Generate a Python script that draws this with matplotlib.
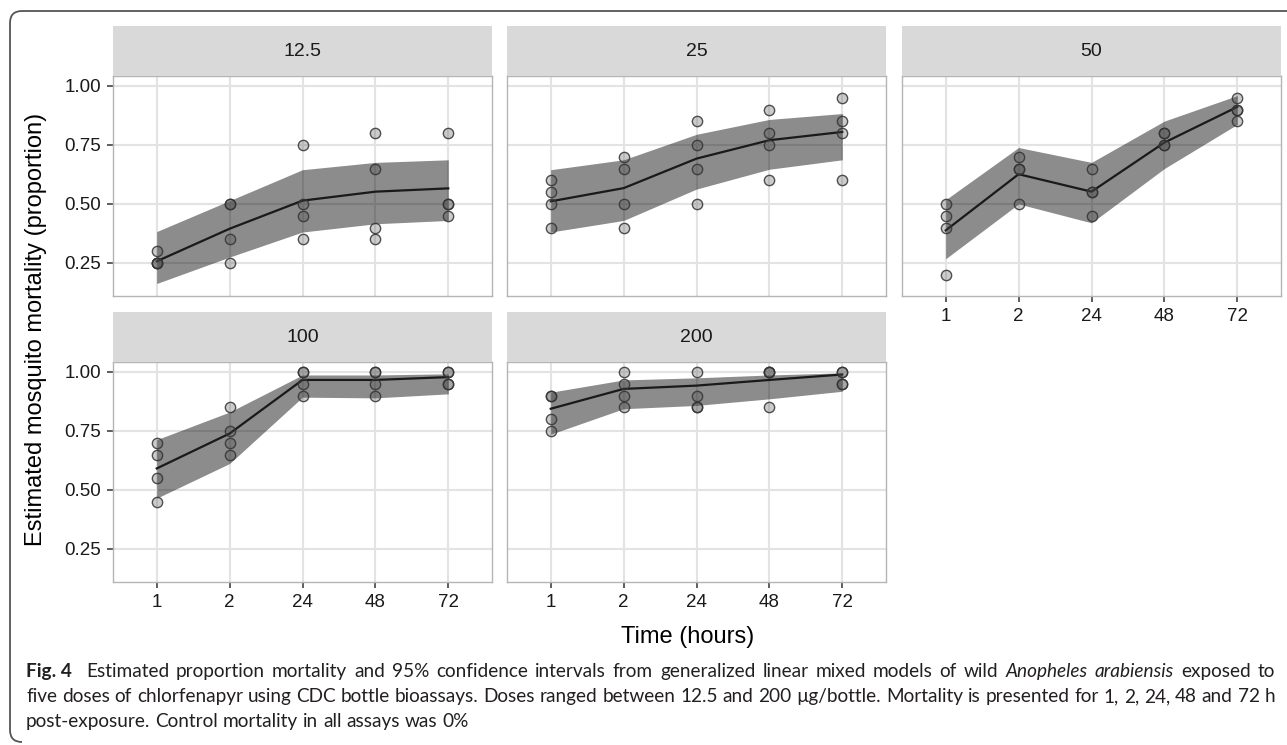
import matplotlib
matplotlib.use('Agg')
import matplotlib.pyplot as plt
from matplotlib.patches import Rectangle, PathPatch
from matplotlib.path import Path

W, H = 1287, 745

times = ['1', '2', '24', '48', '72']
doses = ['12.5', '25', '50', '100', '200']

# observed replicate mortality (4 bottles per time point)
obs_125 = [[0.30, 0.25, 0.25, 0.25], [0.50, 0.50, 0.35, 0.25], [0.75, 0.50, 0.45, 0.35],
           [0.80, 0.65, 0.40, 0.35], [0.80, 0.50, 0.50, 0.45]]
obs_25 = [[0.60, 0.55, 0.50, 0.40], [0.70, 0.65, 0.50, 0.40], [0.85, 0.75, 0.65, 0.50],
          [0.90, 0.80, 0.75, 0.60], [0.95, 0.85, 0.80, 0.60]]
obs_50 = [[0.50, 0.45, 0.40, 0.20], [0.70, 0.65, 0.65, 0.50], [0.65, 0.55, 0.55, 0.45],
          [0.80, 0.80, 0.75, 0.75], [0.95, 0.90, 0.90, 0.85]]
obs_100 = [[0.70, 0.65, 0.55, 0.45], [0.85, 0.75, 0.70, 0.65], [1.00, 1.00, 0.95, 0.90],
           [1.00, 1.00, 0.95, 0.90], [1.00, 1.00, 0.95, 0.95]]
obs_200 = [[0.90, 0.90, 0.80, 0.75], [1.00, 0.95, 0.90, 0.85], [1.00, 0.90, 0.85, 0.85],
           [1.00, 1.00, 1.00, 0.85], [1.00, 1.00, 0.95, 0.95]]

# model estimates and 95% CI
fit_125 = [0.257, 0.395, 0.514, 0.552, 0.566]
lo_125 = [0.163, 0.275, 0.381, 0.416, 0.430]
hi_125 = [0.383, 0.514, 0.645, 0.676, 0.687]

fit_25 = [0.511, 0.567, 0.692, 0.770, 0.805]
lo_25 = [0.381, 0.430, 0.563, 0.647, 0.687]
hi_25 = [0.645, 0.687, 0.795, 0.858, 0.883]

fit_50 = [0.388, 0.626, 0.552, 0.760, 0.911]
lo_50 = [0.268, 0.500, 0.420, 0.650, 0.837]
hi_50 = [0.518, 0.739, 0.676, 0.851, 0.959]

fit_100 = [0.591, 0.739, 0.966, 0.966, 0.978]
lo_100 = [0.465, 0.612, 0.893, 0.890, 0.907]
hi_100 = [0.713, 0.830, 0.987, 0.987, 0.992]

fit_200 = [0.844, 0.928, 0.942, 0.966, 0.989]
lo_200 = [0.736, 0.844, 0.858, 0.886, 0.918]
hi_200 = [0.914, 0.966, 0.975, 0.987, 0.996]

panels = {
    '12.5': (obs_125, fit_125, lo_125, hi_125),
    '25': (obs_25, fit_25, lo_25, hi_25),
    '50': (obs_50, fit_50, lo_50, hi_50),
    '100': (obs_100, fit_100, lo_100, hi_100),
    '200': (obs_200, fit_200, lo_200, hi_200),
}

plt.rcParams['font.family'] = ['Liberation Sans', 'DejaVu Sans']

fig = plt.figure(figsize=(W / 100, H / 100), dpi=100)

lefts = [113, 507, 902]
tops = [76, 362]
pw, ph, sh = 379, 220, 50
layout = {'12.5': (0, 0), '25': (1, 0), '50': (2, 0), '100': (0, 1), '200': (1, 1)}

for dose in doses:
    col, row = layout[dose]
    obs, fit, lo, hi = panels[dose]
    left, top = lefts[col], tops[row]
    ax = fig.add_axes([left / W, 1 - (top + ph) / H, pw / W, ph / H])
    xs = list(range(len(times)))

    ax.fill_between(xs, lo, hi, color='black', alpha=0.45, lw=0, zorder=2)
    ax.plot(xs, fit, color='#1a1a1a', lw=1.6, zorder=3)
    for i, vals in enumerate(obs):
        ax.scatter([i] * len(vals), vals, s=55, facecolor=(0.29, 0.29, 0.29, 0.28),
                   edgecolor=(0.2, 0.2, 0.2, 0.85), linewidth=1.0, zorder=4)

    ax.set_xlim(-0.6, 4.6)
    ax.set_ylim(0.110, 1.042)
    ax.set_xticks(xs)
    ax.set_yticks([0.25, 0.50, 0.75, 1.00])
    ax.grid(True, color='#E3E3E3', lw=1.5, zorder=0)
    ax.set_axisbelow(True)
    for sp in ax.spines.values():
        sp.set_color('#B5B5B5')
        sp.set_linewidth(1.0)

    show_x = (row == 1) or (col == 2)
    show_y = (col == 0)
    ax.tick_params(axis='x', length=4.2 if show_x else 0, width=1.1, color='#333333',
                   pad=4.5, labelsize=13.5, labelcolor='#1a1a1a', labelbottom=show_x)
    ax.tick_params(axis='y', length=4.2 if show_y else 0, width=1.1, color='#333333',
                   pad=4.5, labelsize=13.5, labelcolor='#1a1a1a', labelleft=show_y)
    ax.set_xticklabels(times)
    ax.set_yticklabels(['0.25', '0.50', '0.75', '1.00'])

    # facet strip
    fig.patches.append(Rectangle((left / W, 1 - top / H), pw / W, sh / H,
                                 transform=fig.transFigure, facecolor='#D9D9D9',
                                 edgecolor='none', zorder=1))
    fig.text((left + pw / 2) / W, 1 - (top - sh / 2) / H, dose, ha='center', va='center',
             fontsize=14, color='#1a1a1a')

fig.text(36 / W, 1 - 329 / H, 'Estimated mosquito mortality (proportion)', rotation=90,
         ha='center', va='center', fontsize=17, color='black')
fig.text(688 / W, 1 - 637 / H, 'Time (hours)', ha='center', va='center', fontsize=17,
         color='black')


# rounded frame round the figure
def fx(px):
    return px / W


def fy(py):
    return 1 - py / H


verts = [(fx(1287), fy(11)), (fx(22), fy(11)), (fx(10), fy(11)), (fx(10), fy(23)),
         (fx(10), fy(730)), (fx(10), fy(742)), (fx(22), fy(742))]
codes = [Path.MOVETO, Path.LINETO, Path.CURVE3, Path.CURVE3, Path.LINETO,
         Path.CURVE3, Path.CURVE3]
fig.patches.append(PathPatch(Path(verts, codes), transform=fig.transFigure, fill=False,
                             edgecolor='#555555', lw=1.3))

# caption, justified like the journal page
caption = [
    [('Fig. 4', 'bold'),
     ('Estimated proportion mortality and 95% confidence intervals from generalized linear mixed models of wild', 'normal'),
     ('Anopheles arabiensis', 'italic'), ('exposed to', 'normal')],
    [('five doses of chlorfenapyr using CDC bottle bioassays. Doses ranged between 12.5 and 200 \u00b5g/bottle. Mortality is presented for 1, 2, 24, 48 and 72 h', 'normal')],
    [('post-exposure. Control mortality in all assays was 0%', 'normal')],
]
justify = [True, True, False]
cap_font = 'Lato'
cap_left, cap_right = 26, 1275
renderer = fig.canvas.get_renderer()


def kw_for(style, size):
    return dict(fontsize=size, family=cap_font,
                weight='bold' if style == 'bold' else 'normal',
                style='italic' if style == 'italic' else 'normal')


def word_width(s, style, size):
    t = fig.text(0, 0, s, **kw_for(style, size))
    w = t.get_window_extent(renderer).width
    t.remove()
    return w


def tokens_of(line):
    toks = []
    for s, st in line:
        if st == 'bold':
            toks.append((s, st, 2.0))
        else:
            for wd in s.split(' '):
                toks.append((wd, st, 1.0))
    return toks


def natural_width(line, size):
    toks = tokens_of(line)
    sp = word_width('a a', 'normal', size) - word_width('aa', 'normal', size)
    total = sum(word_width(w, st, size) for w, st, _ in toks)
    total += sum(g for _, _, g in toks[:-1]) * sp
    return total


base = 12
widest = max(natural_width(line, base) for line in caption)
cap_size = base * (cap_right - cap_left) / widest
space = word_width('a a', 'normal', cap_size) - word_width('aa', 'normal', cap_size)

baselines = [677, 702, 727]
for line, yb, just in zip(caption, baselines, justify):
    toks = tokens_of(line)
    widths = [word_width(w, st, cap_size) for w, st, _ in toks]
    weights = [g for _, _, g in toks[:-1]]
    if just:
        unit = (cap_right - cap_left - sum(widths)) / sum(weights)
    else:
        unit = space
    x = cap_left
    for (w, st, g), wd in zip(toks, widths):
        fig.text(x / W, fy(yb), w, va='baseline', ha='left', color='#231F20',
                 **kw_for(st, cap_size))
        x += wd + g * unit

fig.savefig('out.png', dpi=100)
